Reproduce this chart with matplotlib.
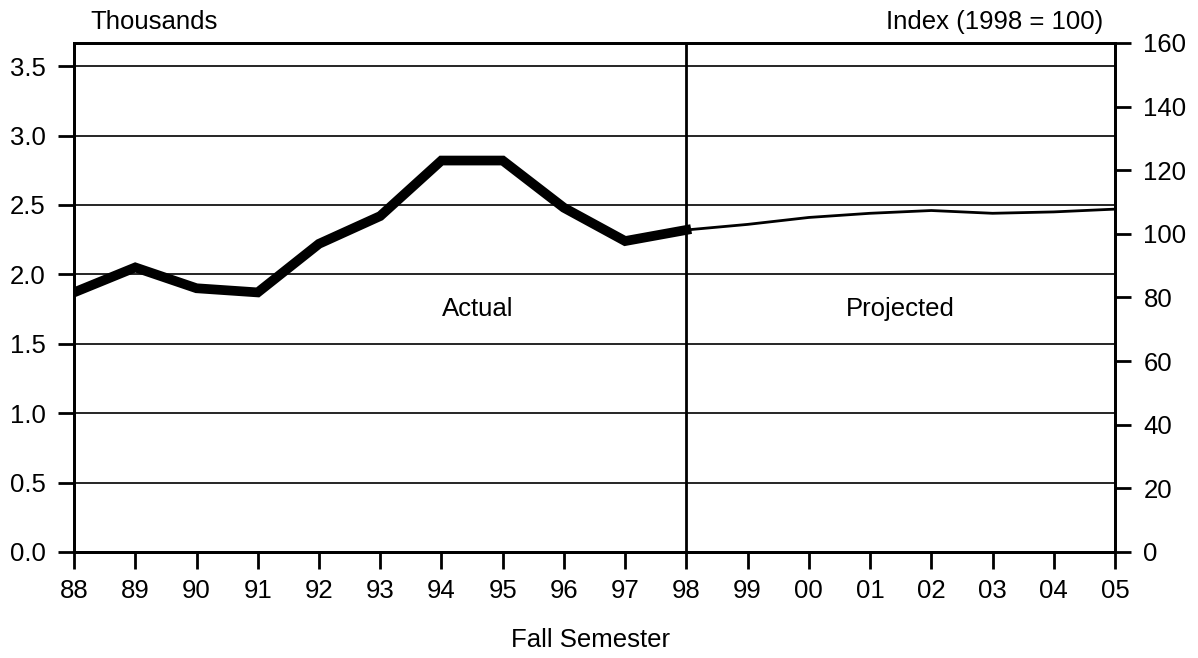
import matplotlib
matplotlib.use("Agg")
import matplotlib.pyplot as plt
import numpy as np

plt.rcParams['font.family'] = ['Liberation Sans', 'DejaVu Sans']

years = ['88', '89', '90', '91', '92', '93', '94', '95', '96', '97', '98',
         '99', '00', '01', '02', '03', '04', '05']
actual = [1.87, 2.05, 1.90, 1.87, 2.22, 2.42, 2.82, 2.82, 2.48, 2.24, 2.32]
projected = [2.32, 2.36, 2.41, 2.44, 2.46, 2.44, 2.45, 2.47]
left_ticks = [0.0, 0.5, 1.0, 1.5, 2.0, 2.5, 3.0, 3.5]
right_ticks = [0, 20, 40, 60, 80, 100, 120, 140, 160]

FS = 18.5

fig = plt.figure(figsize=(11.98, 6.58), dpi=100)
ax = fig.add_axes([0.0618, 0.1611, 0.8689, 0.7736])

x = np.arange(len(years))
xa = x[:len(actual)]
xp = x[len(actual) - 1:]

ax.plot(xa, actual, color='black', lw=7, solid_joinstyle='miter', zorder=3)
ax.plot(xp, projected, color='black', lw=2, zorder=3)
ax.axvline(len(actual) - 1, color='black', lw=2, zorder=2)

ax.set_xlim(0, len(years) - 1)
ax.set_ylim(0, 3.667)
ax.set_xticks(x)
ax.set_xticklabels(years)
ax.set_yticks(left_ticks)
ax.set_yticklabels([f'{v:.1f}' for v in left_ticks])
ax.yaxis.grid(True, color='black', lw=1.2)
ax.set_axisbelow(True)

for s in ax.spines.values():
    s.set_linewidth(2)

ax.tick_params(axis='x', labelsize=FS, width=2, length=12.5, direction='out', pad=7)
ax.tick_params(axis='y', labelsize=FS, width=2, length=11.5, direction='out', pad=9)

ax2 = ax.twinx()
ax2.set_ylim(0, 160)
ax2.set_yticks(right_ticks)
ax2.tick_params(axis='y', labelsize=FS, width=2, length=11.5, direction='out', pad=9)
for s in ax2.spines.values():
    s.set_linewidth(2)

fig.text(0.0755, 0.966, 'Thousands', fontsize=FS, ha='left', va='center')
fig.text(0.921, 0.966, 'Index (1998 = 100)', fontsize=FS, ha='right', va='center')
ax.text(6.6, 1.75, 'Actual', fontsize=FS, ha='center', va='center')
ax.text(13.5, 1.75, 'Projected', fontsize=FS, ha='center', va='center')
fig.text(0.4925, 0.027, 'Fall Semester', fontsize=FS, ha='center', va='center')

fig.savefig('out.png', dpi=100)
